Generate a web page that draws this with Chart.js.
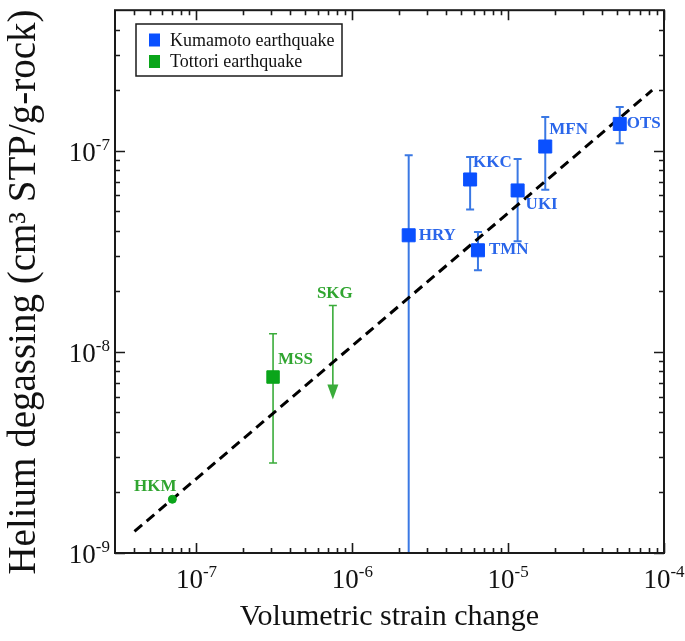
<!DOCTYPE html>
<html><head><meta charset="utf-8">
<script src="https://cdn.jsdelivr.net/npm/chart.js@4/dist/chart.umd.min.js"></script>
<style>html,body{margin:0;padding:0;background:#fff}#wrap{width:685px;height:641px}</style>
</head><body><div id="wrap"><canvas id="c" width="685" height="641"></canvas></div>
<script>
// ---------- data ----------
const seriesNames = ['Kumamoto earthquake', 'Tottori earthquake'];

const kumamotoSites  = ['HRY', 'KKC', 'TMN', 'UKI', 'MFN', 'OTS'];
const kumamotoStrain = [2.3e-6, 5.7e-6, 6.4e-6, 1.15e-5, 1.73e-5, 5.2e-5];
const kumamotoHelium = [3.8e-8, 7.2e-8, 3.2e-8, 6.35e-8, 1.05e-7, 1.36e-7];
const kumamotoLow    = [5e-10, 5.1e-8, 2.55e-8, 3.55e-8, 6.4e-8, 1.09e-7];
const kumamotoHigh   = [9.5e-8, 9.3e-8, 3.95e-8, 9.1e-8, 1.47e-7, 1.65e-7];

const tottoriSites  = ['HKM', 'MSS', 'SKG'];
const tottoriStrain = [7e-8, 3.1e-7, 7.5e-7];
const tottoriHelium = [1.85e-9, 7.5e-9, 1.7e-8];
const tottoriLow    = [null, 2.8e-9, 5.8e-9];
const tottoriHigh   = [null, 1.23e-8, 1.7e-8];
const tottoriUpperLimit = [false, false, true];

const fitStrain = [4e-8, 8.4e-5];
const fitHelium = [1.28e-9, 2.0e-7];

const xRange = [3e-8, 1e-4];
const yRange = [1e-9, 5e-7];
const xTickValues = [1e-7, 1e-6, 1e-5, 1e-4];
const xTickExponents = ['-7', '-6', '-5', '-4'];
const yTickValues = [1e-9, 1e-8, 1e-7];
const yTickExponents = ['-9', '-8', '-7'];

const xTitle = 'Volumetric strain change';
const yTitle = 'Helium degassing (cm\u00B3 STP/g-rock)';

// ---------- styles ----------
const SERIF = '"Liberation Serif", "Times New Roman", serif';
const BLUE = '#0a50ff', BLUE_BAR = '#3a78e4', BLUE_TXT = '#2a66ea';
const GREEN = '#0aa51a', GREEN_BAR = '#3aac3a', GREEN_TXT = '#30a530';
const kumamotoLabelPos = [[10, 0, 'left'], [3, -17, 'left'], [11, -1, 'left'], [8, 14, 'left'], [4, -17, 'left'], [7, 0, 'left']];
const tottoriLabelPos  = [[-17, -13, 'center'], [5, -17, 'left'], [2, -12, 'center']];

function pts(xs, ys) { return xs.map((v, i) => ({x: v, y: ys[i]})); }

const errorBars = {
  id: 'errorBars',
  beforeDatasetsDraw(chart) {
    const {ctx, chartArea: a, scales: {x, y}} = chart;
    ctx.save();
    ctx.beginPath(); ctx.rect(a.left, a.top, a.right - a.left, a.bottom - a.top); ctx.clip();
    const draw = (xs, lo, hi, upper, color, lw, cap) => {
      ctx.strokeStyle = color; ctx.fillStyle = color; ctx.lineWidth = lw;
      xs.forEach((xv, i) => {
        if (lo[i] == null || hi[i] == null) return;
        const px = x.getPixelForValue(xv);
        const pHi = y.getPixelForValue(hi[i]);
        const pLo = y.getPixelForValue(lo[i]);
        const isUp = upper && upper[i];
        const ah = 15, aw = 5.5;
        ctx.beginPath();
        ctx.moveTo(px, pHi); ctx.lineTo(px, isUp ? pLo - ah + 1 : pLo);
        ctx.moveTo(px - cap, pHi); ctx.lineTo(px + cap, pHi);
        if (!isUp) { ctx.moveTo(px - cap, pLo); ctx.lineTo(px + cap, pLo); }
        ctx.stroke();
        if (isUp) {
          ctx.beginPath();
          ctx.moveTo(px - aw, pLo - ah); ctx.lineTo(px + aw, pLo - ah); ctx.lineTo(px, pLo);
          ctx.closePath(); ctx.fill();
        }
      });
    };
    draw(kumamotoStrain, kumamotoLow, kumamotoHigh, null, BLUE_BAR, 2, 4);
    draw(tottoriStrain, tottoriLow, tottoriHigh, tottoriUpperLimit, GREEN_BAR, 1.6, 4);
    ctx.restore();
  }
};

function drawPow(ctx, exp, x, baseline, align) {
  ctx.save();
  ctx.fillStyle = '#111';
  ctx.textBaseline = 'alphabetic';
  ctx.textAlign = 'left';
  const bigF = '27px ' + SERIF, smallF = '17px ' + SERIF;
  ctx.font = bigF; const w1 = ctx.measureText('10').width;
  ctx.font = smallF; const w2 = ctx.measureText(exp).width;
  const total = w1 + w2;
  let x0 = align === 'right' ? x - total : x - total / 2;
  ctx.font = bigF; ctx.fillText('10', x0, baseline);
  ctx.font = smallF; ctx.fillText(exp, x0 + w1, baseline - 11);
  ctx.restore();
}

const frame = {
  id: 'frame',
  afterDraw(chart) {
    const {ctx, chartArea: a, scales: {x, y}} = chart;
    ctx.save();
    ctx.strokeStyle = '#1a1a1a';
    ctx.lineWidth = 1.6;
    const tick = (v, scale, major) => {
      const len = major ? 10 : 5;
      ctx.beginPath();
      if (scale === x) {
        const p = Math.round(x.getPixelForValue(v)) + 0.5;
        ctx.moveTo(p, a.bottom); ctx.lineTo(p, a.bottom - len);
        ctx.moveTo(p, a.top); ctx.lineTo(p, a.top + len);
      } else {
        const p = Math.round(y.getPixelForValue(v)) + 0.5;
        ctx.moveTo(a.left, p); ctx.lineTo(a.left + len, p);
        ctx.moveTo(a.right, p); ctx.lineTo(a.right - len, p);
      }
      ctx.stroke();
    };
    const minorTicks = (scale, range) => {
      const d0 = Math.floor(Math.log10(range[0])), d1 = Math.ceil(Math.log10(range[1]));
      for (let d = d0; d <= d1; d++) for (let k = 2; k <= 9; k++) {
        const v = k * Math.pow(10, d);
        if (v > range[0] * 1.0001 && v < range[1] * 0.9999) tick(v, scale, false);
      }
    };
    minorTicks(x, xRange); minorTicks(y, yRange);
    xTickValues.forEach(v => tick(v, x, true));
    yTickValues.forEach(v => tick(v, y, true));
    ctx.lineWidth = 2;
    ctx.strokeRect(a.left, a.top, a.right - a.left, a.bottom - a.top);
    ctx.restore();
    xTickValues.forEach((v, i) => drawPow(ctx, xTickExponents[i], x.getPixelForValue(v), a.bottom + 35, 'center'));
    yTickValues.forEach((v, i) => drawPow(ctx, yTickExponents[i], a.left - 5, y.getPixelForValue(v) + 10, 'right'));
    // y axis title
    ctx.save();
    ctx.translate(25, 292);
    ctx.rotate(-Math.PI / 2);
    ctx.font = '39px ' + SERIF;
    ctx.fillStyle = '#111';
    ctx.textAlign = 'center'; ctx.textBaseline = 'middle';
    ctx.fillText(yTitle, 0, 0);
    ctx.restore();
  }
};

const siteLabels = {
  id: 'siteLabels',
  afterDatasetsDraw(chart) {
    const {ctx, scales: {x, y}} = chart;
    ctx.save();
    ctx.font = 'bold 17px ' + SERIF;
    ctx.textBaseline = 'middle';
    const draw = (names, xs, ys, pos, color) => {
      ctx.fillStyle = color;
      names.forEach((n, i) => {
        ctx.textAlign = pos[i][2];
        ctx.fillText(n, x.getPixelForValue(xs[i]) + pos[i][0], y.getPixelForValue(ys[i]) + pos[i][1]);
      });
    };
    draw(kumamotoSites, kumamotoStrain, kumamotoHelium, kumamotoLabelPos, BLUE_TXT);
    draw(tottoriSites, tottoriStrain, tottoriHelium, tottoriLabelPos, GREEN_TXT);
    ctx.restore();
  }
};

const boxLegend = {
  id: 'boxLegend',
  afterDraw(chart) {
    const {ctx} = chart;
    ctx.save();
    ctx.fillStyle = '#fff';
    ctx.fillRect(136, 24, 206, 52);
    ctx.strokeStyle = '#1a1a1a'; ctx.lineWidth = 1.5;
    ctx.strokeRect(136, 24, 206, 52);
    ctx.font = '18px ' + SERIF;
    ctx.textBaseline = 'middle'; ctx.textAlign = 'left';
    [0, 1].forEach(i => {
      const ds = chart.data.datasets[i];
      const cy = 40 + i * 21.5;
      ctx.fillStyle = ds.backgroundColor;
      ctx.fillRect(149, cy - 6.5, 11, 13);
      ctx.fillStyle = '#111';
      ctx.fillText(ds.label, 170, cy + 1);
    });
    ctx.restore();
  }
};

new Chart(document.getElementById('c'), {
  type: 'scatter',
  data: {
    datasets: [
      {label: seriesNames[0], data: pts(kumamotoStrain, kumamotoHelium), pointStyle: 'rect',
       pointRadius: 9.2, backgroundColor: BLUE, borderColor: BLUE, borderWidth: 1, order: 0},
      {label: seriesNames[1], data: pts(tottoriStrain, tottoriHelium), pointStyle: ['circle', 'rect', 'circle'],
       pointRadius: [4, 8.8, 0], backgroundColor: GREEN, borderColor: GREEN, borderWidth: 1, order: 0},
      {label: 'fit', type: 'line', data: pts(fitStrain, fitHelium), borderColor: '#000', borderWidth: 3,
       borderDash: [10, 6], pointRadius: 0, fill: false, showLine: true, order: 1}
    ]
  },
  options: {
    responsive: false, animation: false, devicePixelRatio: 1,
    layout: {padding: {left: 0, right: 21, top: 5, bottom: 0}},
    plugins: {legend: {display: false}, tooltip: {enabled: false}},
    scales: {
      x: {type: 'logarithmic', position: 'bottom', min: xRange[0], max: xRange[1],
          grid: {display: false, drawTicks: false}, border: {display: false}, ticks: {display: false},
          title: {display: true, text: xTitle, color: '#111', font: {family: SERIF, size: 30, lineHeight: 1.2},
                  padding: {top: 0, bottom: 6}},
          afterFit(s) { s.height = 88; }},
      y: {type: 'logarithmic', position: 'left', min: yRange[0], max: yRange[1],
          grid: {display: false, drawTicks: false}, border: {display: false}, ticks: {display: false},
          title: {display: false},
          afterFit(s) { s.width = 115; }}
    }
  },
  plugins: [errorBars, frame, siteLabels, boxLegend]
});
</script>
</body></html>
